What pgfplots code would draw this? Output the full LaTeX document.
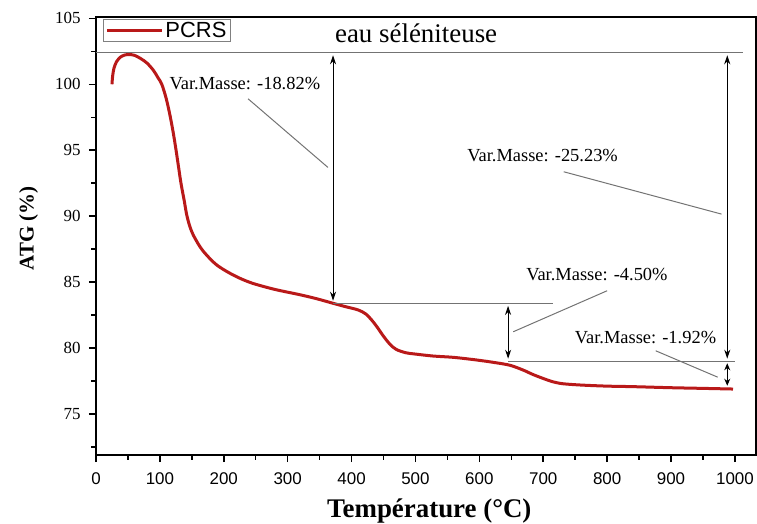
\documentclass[border=0pt]{standalone}
\usepackage{fontspec}
\setmainfont{Liberation Serif}
\newfontfamily\arial{Liberation Sans}
\usepackage{pgfplots}
\pgfplotsset{compat=1.18}
\usetikzlibrary{arrows.meta}
\definecolor{atgred}{RGB}{185,25,25}
\definecolor{annot}{RGB}{115,115,115}

\begin{document}
\begin{tikzpicture}
\begin{axis}[
  name=ax,
  scale only axis,
  width=660bp, height=438bp,
  xmin=0, xmax=1033, ymin=71.9, ymax=105.1,
  xtick={0,100,...,1000},
  ytick={75,80,...,105},
  minor xtick={50,150,...,950},
  minor ytick={72.5,77.5,...,102.5},
  xtick pos=bottom, ytick pos=left,
  xtick align=outside, ytick align=outside,
  major tick length=7bp, minor tick length=4.5bp,
  xtick style={draw=black, line width=1.5bp},
  ytick style={draw=black, line width=1.5bp},
  axis line style={line width=2bp},
  /pgf/number format/assume math mode=true,
  /pgf/number format/1000 sep={},
  xticklabel style={font=\arial\fontsize{17}{17}\selectfont, yshift=-7bp},
  yticklabel style={font=\fontsize{17}{17}\selectfont, xshift=-5bp},
  xlabel={\textbf{Température (°C)}},
  ylabel={\textbf{ATG (\%)}},
  xlabel style={font=\fontsize{27}{27}\selectfont, at={(axis description cs:0.505,-0.1438)}, anchor=base},
  ylabel style={font=\fontsize{21}{21}\selectfont, at={(axis description cs:-0.1023,0.517)}, anchor=center},
  legend style={at={(0.0106,0.9954)}, anchor=north west, draw=gray, line width=1bp,
    font=\arial\fontsize{22}{22}\selectfont, inner xsep=2bp, inner ysep=0.5bp},
  legend cell align=left,
  legend image code/.code={\draw[#1] (0bp,0bp) -- (55bp,0bp);},
]
\addplot[atgred, line width=3bp, smooth] coordinates {
(25,100.0)(26,100.6)(28,101.2)(32,101.7)(38,102.05)(45,102.22)(52,102.25)
(60,102.2)(70,101.95)(80,101.6)(90,101.05)(97,100.5)(103,100.0)(110,98.9)
(116,97.6)(121,96.3)(125,95.1)(129,93.8)(133,92.5)(138,91.2)(142,90.1)
(147,89.2)(152,88.6)(160,87.9)(167,87.4)(178,86.8)(189,86.3)(205,85.8)
(225,85.3)(246,84.9)(280,84.45)(319,84.05)(345,83.75)(371,83.4)(390,83.15)
(410,82.9)(422,82.6)(432,82.1)(440,81.6)(450,80.9)(460,80.3)(470,79.9)
(485,79.65)(500,79.55)(528,79.4)(560,79.3)(596,79.1)(625,78.9)(648,78.7)
(668,78.35)(684,78.0)(700,77.7)(715,77.45)(731,77.3)(760,77.2)(800,77.12)
(841,77.08)(900,77.0)(950,76.95)(997,76.9)
};
\addlegendentry{PCRS}

% reference lines
\draw[annot, line width=1bp] (0,102.4) -- (1012,102.4);
\draw[annot, line width=1bp] (371,83.4) -- (715,83.4);
\draw[annot, line width=1bp] (645,79.0) -- (1000,79.0);

% arrows
\draw[black, line width=1bp, {Stealth[length=9bp,width=6bp]}-{Stealth[length=9bp,width=6bp]}] (371,102.2) -- (371,83.6);
\draw[black, line width=1bp, {Stealth[length=9bp,width=6bp]}-{Stealth[length=9bp,width=6bp]}] (645,83.2) -- (645,79.2);
\draw[black, line width=1bp, {Stealth[length=9bp,width=6bp]}-{Stealth[length=9bp,width=6bp]}] (988,102.2) -- (988,79.2);
\draw[black, line width=1bp, {Stealth[length=7bp,width=6bp]}-{Stealth[length=7bp,width=6bp]}] (988,78.85) -- (988,77.15);

% leader lines
\draw[annot, line width=1bp] (238,98.9) -- (363,93.7);
\draw[annot, line width=1bp] (732,93.37) -- (979,90.16);
\draw[annot, line width=1bp] (800,84.35) -- (653,81.24);
\draw[annot, line width=1bp] (876,79.8) -- (973,77.8);

% texts
\node[anchor=base, font=\fontsize{27}{27}\selectfont] at (501,103.2) {eau séléniteuse};
\node[anchor=base, font=\fontsize{18.5}{18.5}\selectfont] at (233,99.6) {Var.Masse: -18.82\%};
\node[anchor=base, font=\fontsize{18.5}{18.5}\selectfont] at (699,94.13) {Var.Masse: -25.23\%};
\node[anchor=base, font=\fontsize{18.5}{18.5}\selectfont] at (784,85.1) {Var.Masse: -4.50\%};
\node[anchor=base, font=\fontsize{18.5}{18.5}\selectfont] at (860,80.36) {Var.Masse: -1.92\%};
\end{axis}
\pgfresetboundingbox
\path[use as bounding box] ([shift={(-96bp,-69bp)}]ax.south west) rectangle ([shift={(1bp,17bp)}]ax.north east);
\end{tikzpicture}
\end{document}
